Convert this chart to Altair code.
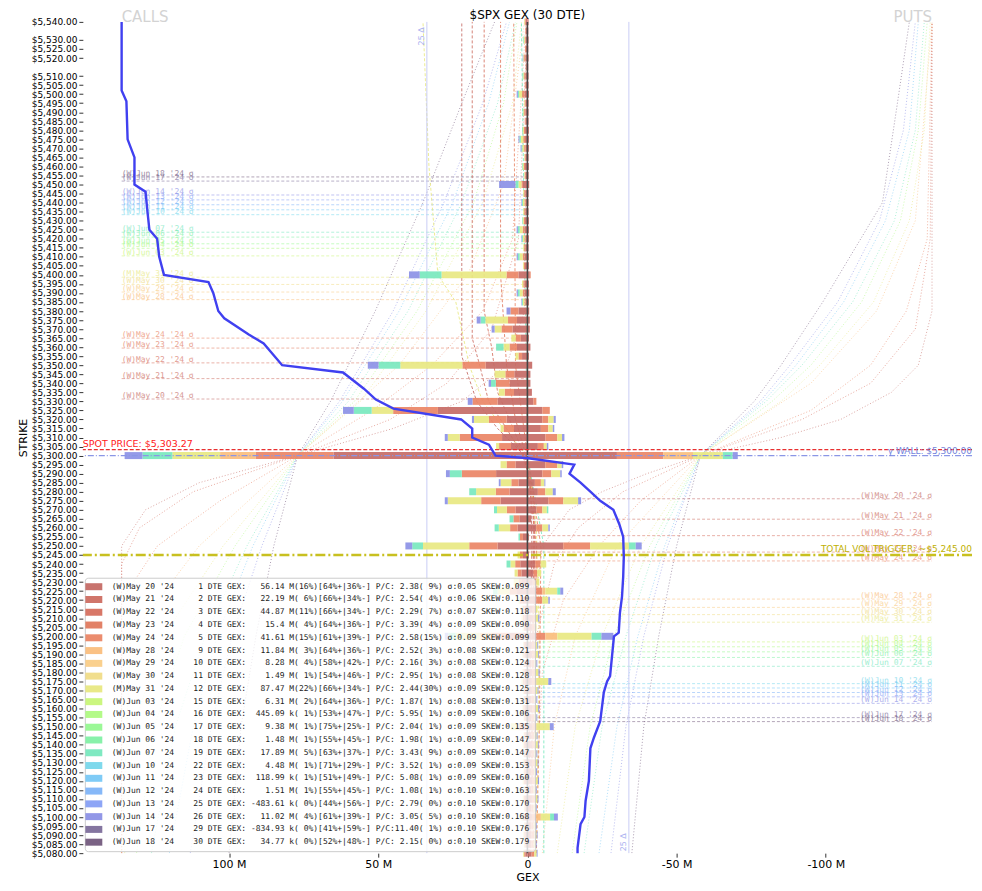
import altair as alt
import pandas as pd

# ---------------- expirations / legend columns ----------------
NAMES = ["(W)May 20 '24", "(W)May 21 '24", "(W)May 22 '24", "(W)May 23 '24", "(W)May 24 '24",
         "(W)May 28 '24", "(W)May 29 '24", "(W)May 30 '24", "(M)May 31 '24", "(W)Jun 03 '24",
         "(W)Jun 04 '24", "(W)Jun 05 '24", "(W)Jun 06 '24", "(W)Jun 07 '24", "(W)Jun 10 '24",
         "(W)Jun 11 '24", "(W)Jun 12 '24", "(W)Jun 13 '24", "(W)Jun 14 '24", "(W)Jun 17 '24",
         "(W)Jun 18 '24"]
COLORS = ["#c56b66", "#ce6e62", "#d6705f", "#e07a5f", "#ea8666", "#fabe7d", "#facd87", "#f0dc87",
          "#e8e882", "#c8f578", "#affa82", "#96f891", "#82f0a5", "#78e8be", "#78d7eb", "#78c8f5",
          "#80b4f8", "#87a0f5", "#8c91e6", "#7d6e9b", "#735a7d"]
DTE = [1, 2, 3, 4, 5, 9, 10, 11, 12, 15, 16, 17, 18, 19, 22, 23, 24, 25, 26, 29, 30]
GEX_VAL = ["56.14", "22.19", "44.87", "15.4", "41.61", "11.84", "8.28", "1.49", "87.47", "6.31",
           "445.09", "9.38", "1.48", "17.89", "4.48", "118.99", "1.51", "-483.61", "11.02",
           "-834.93", "34.77"]
GEX_UNIT = ["M", "M", "M", "M", "M", "M", "M", "M", "M", "M", "k", "M", "M", "M", "M", "k", "M",
            "k", "M", "k", "k"]
GEX_PCT = [16, 6, 11, 4, 15, 3, 4, 1, 22, 2, 1, 1, 1, 5, 1, 1, 1, 0, 4, 0, 0]
PLUS = [64, 66, 66, 64, 61, 64, 58, 54, 66, 64, 53, 75, 55, 63, 71, 51, 55, 44, 61, 41, 52]
MINUS = [36, 34, 34, 36, 39, 36, 42, 46, 34, 36, 47, 25, 45, 37, 29, 49, 45, 56, 39, 59, 48]
PC = [2.38, 2.54, 2.29, 3.39, 2.58, 2.52, 2.16, 2.95, 2.44, 1.87, 5.95, 2.04, 1.98, 3.43, 3.52,
      5.08, 1.08, 2.79, 3.05, 11.40, 2.15]
PC_PCT = [9, 4, 7, 4, 15, 3, 3, 1, 30, 1, 1, 1, 1, 9, 1, 1, 1, 0, 5, 1, 0]
SIG = [0.05, 0.06, 0.07, 0.09, 0.09, 0.08, 0.08, 0.08, 0.09, 0.08, 0.09, 0.09, 0.09, 0.09, 0.09,
       0.09, 0.10, 0.10, 0.10, 0.10, 0.10]
SKEW = [0.099, 0.110, 0.118, 0.090, 0.099, 0.121, 0.124, 0.128, 0.125, 0.131, 0.106, 0.135, 0.147,
        0.147, 0.153, 0.160, 0.163, 0.170, 0.168, 0.176, 0.179]

# sigma levels (strike) per expiration: above spot (calls side) and below spot (puts side)
SIGMA_UP = [5331.3, 5342.6, 5351.3, 5359.5, 5365.0, 5386.3, 5390.5, 5394.7, 5398.7, 5410.5, 5414.7,
            5417.2, 5420.9, 5423.6, 5433.3, 5436.0, 5438.8, 5441.5, 5444.2, 5451.9, 5454.2]
SIGMA_DN = [5276.1, 5264.8, 5255.7, 5246.6, 5241.7, 5220.6, 5216.0, 5212.0, 5207.8, 5196.9, 5194.2,
            5191.4, 5188.3, 5183.4, 5173.8, 5171.4, 5168.9, 5166.5, 5162.9, 5155.0, 5152.8]

SPOT = 5303.27
GAMMA_WALL = 5300.0
VOL_TRIGGER = 5245.0
DELTA25 = [33.7, -34.0]

YTICKS = [5540, 5530, 5525, 5520] + list(range(5510, 5075, -5))
XTICKS = [100, 50, 0, -50, -100]

# ---------------- GEX bars (M): strike -> (calls by group, puts by group) ----------------
BAR_GROUPS = ["(W)May 20 '24", "(W)May 24 '24", "(W)May 28 '24", "(M)May 31 '24",
              "(W)Jun 07 '24", "(W)Jun 14 '24"]
BARS = {
    5540: ([0.6, 0.3, 0, 0.2, 0, 0], [0.4, 0, 0, 0, 0, 0]),
    5535: ([0.5, 0.2, 0, 0, 0, 0], [0.3, 0, 0, 0, 0, 0]),
    5530: ([0.6, 0.3, 0, 0.3, 0.2, 0], [0.4, 0, 0, 0, 0, 0]),
    5525: ([0.5, 0.3, 0, 0, 0, 0], [0.3, 0, 0, 0, 0, 0]),
    5520: ([0.7, 0.4, 0, 0.3, 0, 0.2], [0.4, 0, 0, 0, 0, 0]),
    5515: ([0.4, 0.2, 0, 0, 0, 0], [0.3, 0, 0, 0, 0, 0]),
    5510: ([0.7, 0.4, 0, 0.3, 0.2, 0], [0.4, 0, 0, 0, 0, 0]),
    5505: ([0.6, 0.3, 0, 0, 0, 0], [0.4, 0, 0, 0, 0, 0]),
    5500: ([1.0, 0.8, 0, 1.0, 0.4, 0.4], [0.5, 0, 0, 0, 0, 0]),
    5495: ([0.6, 0.3, 0, 0.2, 0, 0], [0.4, 0, 0, 0, 0, 0]),
    5490: ([0.7, 0.4, 0, 0.3, 0.2, 0], [0.4, 0, 0, 0, 0, 0]),
    5485: ([0.6, 0.3, 0, 0, 0, 0], [0.4, 0, 0, 0, 0, 0]),
    5480: ([0.8, 0.4, 0, 0.4, 0.2, 0], [0.5, 0, 0, 0, 0, 0]),
    5475: ([0.8, 0.6, 0, 0.8, 0.5, 0.3], [0.5, 0, 0, 0, 0, 0]),
    5470: ([0.6, 0.5, 0, 0.6, 0.3, 0.3], [0.5, 0, 0, 0, 0, 0]),
    5465: ([0.6, 0.3, 0, 0.2, 0, 0], [0.4, 0, 0, 0, 0, 0]),
    5460: ([0.8, 0.4, 0, 0.4, 0.2, 0], [0.5, 0, 0, 0, 0, 0]),
    5455: ([0.6, 0.3, 0, 0.2, 0, 0], [0.4, 0, 0, 0, 0, 0]),
    5450: ([1.5, 0.5, 0, 1.0, 1.0, 5.5], [0.6, 0, 0, 0, 0, 0]),
    5445: ([0.7, 0.4, 0, 0.3, 0, 0], [0.4, 0, 0, 0, 0, 0]),
    5440: ([0.6, 0.4, 0, 0.5, 0.3, 0.2], [0.4, 0, 0, 0, 0, 0]),
    5435: ([0.7, 0.4, 0, 0.3, 0, 0], [0.4, 0, 0, 0, 0, 0]),
    5430: ([0.8, 0.4, 0, 0.4, 0.2, 0], [0.5, 0, 0, 0, 0, 0]),
    5425: ([1.0, 0.6, 0, 1.0, 0.6, 0.4], [0.5, 0, 0, 0, 0, 0]),
    5420: ([0.6, 0.4, 0, 0.5, 0.3, 0.2], [0.5, 0, 0, 0, 0, 0]),
    5415: ([0.7, 0.4, 0, 0.3, 0, 0], [0.4, 0, 0, 0, 0, 0]),
    5410: ([1.0, 0.6, 0, 1.0, 0.6, 0.4], [0.5, 0, 0, 0, 0, 0]),
    5405: ([0.8, 0.4, 0, 0.3, 0, 0], [0.5, 0, 0, 0, 0, 0]),
    5400: ([3.0, 4.0, 0, 21.8, 7.3, 3.6], [0.8, 0.3, 0, 0, 0, 0]),
    5395: ([0.9, 0.5, 0, 0.4, 0, 0], [0.5, 0, 0, 0, 0, 0]),
    5390: ([1.0, 0.6, 0, 1.0, 0.6, 0.4], [0.6, 0, 0, 0, 0, 0]),
    5385: ([0.6, 0.4, 0, 0.5, 0.3, 0.2], [0.5, 0, 0, 0, 0, 0]),
    5380: ([3.0, 2.7, 0, 0, 0, 1.3], [0.6, 0, 0, 0, 0, 0]),
    5375: ([3.5, 3.0, 0, 7.6, 1.6, 1.3], [0.8, 0, 0, 0, 0, 0]),
    5370: ([5.0, 3.7, 0, 2.3, 0, 1.0], [0.8, 0, 0, 0, 0, 0]),
    5365: ([2.2, 1.7, 0, 1.5, 0, 0], [0.5, 0, 0, 0, 0, 0]),
    5360: ([3.5, 2.5, 0, 2.0, 2.5, 0], [1.0, 0, 0, 0, 0, 0]),
    5355: ([1.8, 1.2, 0, 1.0, 0, 0], [0.5, 0, 0, 0, 0, 0]),
    5350: ([14.0, 7.8, 0, 20.8, 7.3, 3.6], [1.6, 0, 0, 0, 0, 0]),
    5345: ([4.4, 3.0, 0, 3.6, 0, 0], [1.0, 0, 0, 0, 0, 0]),
    5340: ([6.0, 4.6, 0, 0, 1.6, 0.8], [1.0, 0, 0, 0, 0, 0]),
    5335: ([4.5, 3.1, 0, 2.0, 0, 0], [1.5, 0, 0, 0, 0, 0]),
    5330: ([10.0, 8.4, 0, 0, 0, 1.6], [2.0, 1.0, 0, 0, 0, 0]),
    5325: ([30.0, 15.0, 0, 7.2, 6.0, 3.6], [5.0, 2.5, 0, 0, 0, 0]),
    5320: ([7.0, 5.9, 0, 5.0, 0, 0.7], [5.0, 2.0, 0, 1.8, 0, 0.7]),
    5315: ([4.5, 3.5, 0, 1.0, 0, 0], [4.5, 2.5, 0, 1.5, 0, 0.5]),
    5310: ([8.5, 14.2, 0, 4.0, 0, 1.0], [6.0, 4.0, 0, 1.6, 0, 0.8]),
    5305: ([5.5, 4.0, 0, 1.0, 0, 0], [3.5, 2.0, 0, 1.0, 0, 0.5]),
    5300: ([65.0, 26.0, 12.0, 16.0, 10.0, 6.0], [30.0, 15.5, 10.0, 10.0, 3.3, 1.7]),
    5295: ([4.0, 3.0, 0, 2.0, 0, 0], [6.0, 4.0, 0, 1.5, 0, 0.5]),
    5290: ([10.5, 11.5, 0, 0, 4.0, 1.3], [5.0, 3.0, 0, 3.0, 0, 0.5]),
    5285: ([3.0, 2.4, 0, 3.6, 0, 0.6], [2.5, 2.0, 0, 1.2, 0, 0.3]),
    5280: ([6.0, 4.6, 0, 6.6, 2.3, 0], [3.5, 2.5, 0, 2.5, 0, 1.0]),
    5275: ([9.0, 6.5, 0, 11.2, 0, 1.0], [7.0, 5.0, 0, 5.0, 0, 1.0]),
    5270: ([4.0, 2.9, 0, 3.3, 1.0, 0], [3.0, 2.0, 0, 1.5, 0.5, 0]),
    5265: ([2.7, 2.0, 0, 0, 1.3, 0], [1.3, 0, 0, 0, 0, 0]),
    5260: ([3.3, 2.5, 0, 3.8, 1.4, 0], [3.0, 2.0, 0, 2.0, 0, 0.5]),
    5255: ([1.5, 1.0, 0, 0, 0.5, 0], [0.5, 0, 0, 0, 0, 0]),
    5250: ([10.0, 9.5, 0, 15.5, 3.6, 2.3], [12.0, 9.0, 0, 13.0, 2.3, 2.0]),
    5245: ([1.5, 1.0, 0, 0.8, 0, 0], [0.5, 0, 0, 0, 0, 0]),
    5240: ([2.4, 1.7, 0, 1.6, 1.3, 0], [2.6, 1.8, 0, 1.9, 0, 0]),
    5235: ([2.0, 1.3, 0, 1.0, 0, 0], [2.0, 1.3, 0, 1.3, 0, 0]),
    5230: ([1.8, 1.2, 0, 1.6, 0, 0], [1.8, 1.2, 0, 1.0, 0, 0]),
    5225: ([3.5, 2.5, 0, 4.0, 1.5, 0], [3.0, 2.0, 1.0, 4.0, 1.0, 1.0]),
    5220: ([1.5, 1.0, 0, 0.5, 0, 0], [3.0, 2.0, 0, 2.0, 0, 0.5]),
    5215: ([1.0, 0.6, 0, 0.4, 0, 0], [1.8, 1.0, 0, 0.6, 0, 0]),
    5210: ([1.0, 0.6, 0, 0.4, 0, 0], [1.8, 1.0, 0, 0.8, 0, 0.4]),
    5205: ([0.8, 0.5, 0, 0.3, 0, 0], [1.5, 1.0, 0, 0.5, 0, 0]),
    5200: ([7.0, 5.0, 4.0, 8.0, 2.5, 1.2], [3.0, 3.0, 4.0, 11.5, 3.3, 4.0]),
    5195: ([0.8, 0.5, 0, 0.2, 0, 0], [1.5, 1.0, 0, 0.8, 0, 0.3]),
    5190: ([0.9, 0.5, 0, 0.3, 0, 0], [1.6, 1.0, 0, 1.0, 0, 0.3]),
    5185: ([0.7, 0.4, 0, 0.2, 0, 0], [1.4, 0.9, 0, 0.7, 0, 0.3]),
    5180: ([0.9, 0.5, 0, 0.3, 0, 0], [1.6, 1.1, 0, 1.0, 0, 0.4]),
    5175: ([1.0, 0.6, 0, 0.4, 0, 0], [1.5, 1.5, 0, 4.0, 0, 1.0]),
    5170: ([0.8, 0.5, 0, 0.2, 0, 0], [1.5, 1.0, 0, 0.9, 0, 0.3]),
    5165: ([0.7, 0.4, 0, 0.2, 0, 0], [1.4, 0.9, 0, 0.7, 0, 0.3]),
    5160: ([0.9, 0.5, 0, 0.3, 0, 0], [1.6, 1.0, 0, 1.0, 0, 0.4]),
    5155: ([0.7, 0.4, 0, 0.2, 0, 0], [1.4, 0.9, 0, 0.7, 0, 0.3]),
    5150: ([2.0, 1.0, 0, 2.6, 0, 0], [1.5, 1.5, 0, 4.5, 0, 1.3]),
    5145: ([0.7, 0.4, 0, 0.2, 0, 0], [1.4, 0.9, 0, 0.8, 0, 0.3]),
    5140: ([0.8, 0.5, 0, 0.3, 0, 0], [1.5, 1.0, 0, 1.0, 0, 0.3]),
    5135: ([0.7, 0.4, 0, 0.2, 0, 0], [1.4, 0.9, 0, 0.7, 0, 0.3]),
    5130: ([0.8, 0.5, 0, 0.3, 0, 0], [1.5, 1.0, 0, 0.9, 0, 0.3]),
    5125: ([0.7, 0.4, 0, 0.2, 0, 0], [1.3, 0.9, 0, 0.7, 0, 0.3]),
    5120: ([0.8, 0.5, 0, 0.3, 0, 0], [1.5, 1.0, 0, 1.0, 0, 0.4]),
    5115: ([0.6, 0.4, 0, 0.2, 0, 0], [1.3, 0.8, 0, 0.7, 0, 0.3]),
    5110: ([0.8, 0.5, 0, 0.3, 0, 0], [1.5, 1.0, 0, 0.9, 0, 0.3]),
    5105: ([0.6, 0.4, 0, 0.2, 0, 0], [1.3, 0.8, 0, 0.7, 0, 0.3]),
    5100: ([1.0, 0.6, 0, 0.4, 0, 0], [1.5, 1.5, 1.5, 3.1, 1.3, 1.3]),
    5095: ([0.6, 0.4, 0, 0.2, 0, 0], [1.3, 0.8, 0, 0.7, 0, 0.3]),
    5090: ([0.7, 0.4, 0, 0.3, 0, 0], [1.4, 0.9, 0, 0.8, 0, 0.3]),
    5085: ([0.6, 0.4, 0, 0.2, 0, 0], [1.3, 0.8, 0, 0.7, 0, 0.3]),
    5080: ([0.7, 0.4, 0, 0.3, 0, 0], [1.4, 0.9, 0, 0.8, 0, 0.3]),
}

# ---------------- cumulative total GEX profile (blue line) ----------------
PROFILE_STRIKE = [5540, 5502, 5496, 5475, 5465, 5450, 5446, 5436, 5425, 5420, 5410, 5400, 5396, 5390,
                  5380, 5376, 5367, 5362, 5350, 5346, 5337, 5331, 5326, 5320, 5315, 5310, 5306, 5300,
                  5298.5, 5295, 5290, 5285, 5280, 5275, 5270, 5262, 5255, 5244, 5233, 5222, 5213,
                  5202, 5200, 5178, 5175, 5169, 5153, 5144, 5138, 5120, 5109, 5100, 5096, 5083, 5080]
PROFILE_GEX = [136.0, 136.0, 134.4, 134.0, 131.7, 131.7, 128.0, 127.4, 126.7, 124.1, 123.4, 121.8,
               106.9, 105.3, 103.6, 101.6, 93.4, 88.4, 82.2, 61.8, 54.8, 50.8, 44.9, 22.2, 18.5, 18.5,
               12.9, 10.7, -0.3, -15.7, -14.1, -17.8, -21.1, -24.4, -28.8, -30.8, -32.1, -32.3, -32.1,
               -31.7, -31.0, -30.6, -29.0, -27.7, -26.7, -25.6, -24.4, -22.3, -21.1, -20.6, -19.5,
               -19.1, -17.8, -16.8, -16.8]

# ---------------- dotted cumulative curves: name -> (strikes, GEX in M) ----------------
CALL_CURVES = {
    "(W)May 20 '24": ([5080, 5250, 5270, 5285, 5300, 5315, 5330, 5350, 5380, 5540],
                      [136, 136, 128, 110, 77, 45, 22, 7, 1, 0]),
    "(W)May 22 '24": ([5080, 5240, 5260, 5280, 5300, 5320, 5340, 5370, 5420, 5540],
                      [136, 136, 130, 112, 77, 46, 27, 12, 3, 0]),
    "(W)May 24 '24": ([5080, 5220, 5250, 5275, 5300, 5325, 5350, 5380, 5420, 5540],
                      [136, 136, 124, 103, 77, 52, 32, 15, 5, 0.5]),
    "(W)May 28 '24": ([5080, 5200, 5250, 5300, 5350, 5400, 5450, 5540],
                      [136, 133, 110, 77, 43, 20, 8, 1]),
    "(M)May 31 '24": ([5080, 5150, 5200, 5250, 5300, 5330, 5380, 5440, 5495, 5540],
                      [135, 132, 122, 102, 77, 56, 34, 15, 5, 2]),
    "(W)Jun 04 '24": ([5080, 5150, 5200, 5250, 5300, 5330, 5380, 5440, 5495, 5540],
                      [131, 125, 115, 98, 77, 58, 37, 18, 8, 3.5]),
    "(W)Jun 07 '24": ([5080, 5150, 5200, 5250, 5300, 5330, 5380, 5440, 5495, 5540],
                      [126, 118, 108, 94, 77, 60, 40, 22, 10, 4]),
    "(W)Jun 11 '24": ([5080, 5150, 5200, 5250, 5300, 5330, 5380, 5440, 5495, 5540],
                      [120, 112, 104, 92, 77, 62, 43, 25, 13, 6]),
    "(W)Jun 14 '24": ([5080, 5150, 5200, 5250, 5300, 5330, 5380, 5440, 5495, 5540],
                      [113, 106, 99, 89, 77, 63, 45, 28, 15, 7]),
    "(W)Jun 18 '24": ([5080, 5150, 5200, 5250, 5300, 5330, 5380, 5440, 5495, 5540],
                      [100, 96, 91, 85, 77, 66, 51, 35, 22, 11]),
}
PUT_CURVES = {
    "(W)May 20 '24": ([5080, 5200, 5250, 5270, 5280, 5290, 5300, 5310, 5320, 5335, 5350, 5380, 5540],
                      [0, 1, 5, 14, 25, 40, 58, 85, 105, 122, 131, 135.6, 135.6]),
    "(W)May 22 '24": ([5080, 5200, 5240, 5260, 5280, 5300, 5320, 5340, 5370, 5420, 5540],
                      [0.5, 3, 9, 17, 32, 58, 92, 115, 130, 135, 135.6]),
    "(W)May 24 '24": ([5080, 5180, 5220, 5250, 5275, 5300, 5325, 5350, 5380, 5420, 5540],
                      [2, 5, 12, 24, 38, 58, 95, 115, 127, 134, 135.6]),
    "(W)May 28 '24": ([5080, 5150, 5200, 5250, 5300, 5340, 5380, 5430, 5540],
                      [5, 9, 16, 30, 58, 95, 117, 130, 135.6]),
    "(M)May 31 '24": ([5080, 5150, 5200, 5250, 5300, 5330, 5350, 5385, 5430, 5480, 5540],
                      [10, 16, 25, 38, 58, 85, 98, 116, 128, 133, 135]),
    "(W)Jun 04 '24": ([5080, 5150, 5200, 5250, 5300, 5330, 5350, 5385, 5430, 5480, 5540],
                      [15, 21, 29, 41, 58, 82, 95, 112, 125, 131, 134]),
    "(W)Jun 07 '24": ([5080, 5150, 5200, 5250, 5300, 5330, 5350, 5385, 5430, 5480, 5540],
                      [19, 25, 33, 43, 58, 80, 92, 109, 123, 130, 133]),
    "(W)Jun 11 '24": ([5080, 5150, 5200, 5250, 5300, 5330, 5350, 5385, 5430, 5480, 5540],
                      [24, 30, 37, 46, 58, 79, 90, 106, 120, 128, 131]),
    "(W)Jun 14 '24": ([5080, 5150, 5200, 5250, 5300, 5330, 5350, 5385, 5430, 5480, 5540],
                      [28, 33, 39, 47, 58, 78, 88, 104, 118, 126, 130]),
    "(W)Jun 18 '24": ([5080, 5150, 5200, 5250, 5300, 5330, 5350, 5385, 5440, 5495, 5540],
                      [35, 39, 44, 50, 58, 76, 85, 99, 119, 124, 128]),
}

# ---------------- dashed per-expiry profile lines near zero ----------------
DASH_LINES = {
    "(W)May 20 '24": ([5540, 5355, 5345, 5330, 5315, 5305, 5300, 5290, 5250, 5200, 5080],
                      [22, 22, 20, 17, 10, 4, 1, -1, -1.5, -1, -0.5]),
    "(W)May 21 '24": ([5540, 5365, 5350, 5330, 5315, 5300, 5280, 5240, 5080],
                      [18.5, 18.5, 16, 13, 7, 1.5, -2, -2, -1]),
    "(W)May 22 '24": ([5540, 5380, 5360, 5335, 5320, 5300, 5270, 5200, 5080],
                      [14.5, 14.5, 12, 10, 6, 1, -2.5, -2, -1.5]),
    "(M)May 31 '24": ([5540, 5460, 5400, 5385, 5350, 5330, 5315, 5300, 5260, 5200, 5080],
                      [35, 33, 30, 24, 19.5, 15, 8, 0, -3, -4, -3]),
    "(W)May 23 '24": ([5540, 5400, 5350, 5320, 5300, 5250, 5080],
                      [9, 9, 7, 4, 0.5, -3, -2]),
    "(W)May 24 '24": ([5540, 5350, 5300, 5250, 5150, 5080],
                      [4.6, 4, 0, -4.5, -4, -3]),
    "(W)Jun 07 '24": ([5540, 5300, 5250, 5080], [2, 0, -5.5, -5.5]),
}

# ---------------- build tables ----------------
LABELS = []
for i in range(len(NAMES)):
    s = (f"{NAMES[i]}{DTE[i]:>6} DTE GEX:{GEX_VAL[i]:>8} {GEX_UNIT[i]}({GEX_PCT[i]:>2}%)"
         f"[{PLUS[i]}%+|{MINUS[i]}%-] P/C:{PC[i]:>5.2f}({PC_PCT[i]:>2}%) σ:{SIG[i]:.2f} SKEW:{SKEW[i]:.3f}")
    LABELS.append(s.replace(" ", "\u00a0"))
LABEL_OF = dict(zip(NAMES, LABELS))
COLOR_OF = dict(zip(NAMES, COLORS))

bar_rows = []
for k, (calls, puts) in BARS.items():
    for gi, g in enumerate(BAR_GROUPS):
        if calls[gi] > 0:
            bar_rows.append({"strike": k, "gex": calls[gi], "label": LABEL_OF[g], "gi": gi})
        if puts[gi] > 0:
            bar_rows.append({"strike": k, "gex": -puts[gi], "label": LABEL_OF[g], "gi": gi})
bars_df = pd.DataFrame(bar_rows)

profile_df = pd.DataFrame({"strike": PROFILE_STRIKE, "gex": PROFILE_GEX})

curve_rows = []
for name, (ks, vs) in CALL_CURVES.items():
    for k, v in zip(ks, vs):
        curve_rows.append({"cid": "c" + name, "strike": k, "gex": v, "hex": COLOR_OF[name]})
for name, (ks, vs) in PUT_CURVES.items():
    for k, v in zip(ks, vs):
        curve_rows.append({"cid": "p" + name, "strike": k, "gex": -v, "hex": COLOR_OF[name]})
curves_df = pd.DataFrame(curve_rows)

dash_rows = []
for name, (ks, vs) in DASH_LINES.items():
    for k, v in zip(ks, vs):
        dash_rows.append({"cid": name, "strike": k, "gex": v, "hex": COLOR_OF[name]})
dash_df = pd.DataFrame(dash_rows)

LEFT_EDGE = 136.0
RIGHT_EDGE = -135.6
sig_rows = []
for i, name in enumerate(NAMES):
    sig_rows.append({"strike": SIGMA_UP[i], "gex": LEFT_EDGE, "gex2": 0.0, "hex": COLORS[i],
                     "txt": f"{name} σ", "side": "L"})
    sig_rows.append({"strike": SIGMA_DN[i], "gex": 0.0, "gex2": RIGHT_EDGE, "hex": COLORS[i],
                     "txt": f"{name} σ", "side": "R"})
sig_df = pd.DataFrame(sig_rows)
sigL = sig_df[sig_df.side == "L"]
sigR = sig_df[sig_df.side == "R"].assign(gex=RIGHT_EDGE)

# ---------------- encodings ----------------
XS = alt.Scale(domain=[-149, 149], reverse=True, nice=False, zero=False)
YS = alt.Scale(domain=[5080, 5540], nice=False, zero=False, padding=0)
XA = alt.Axis(values=XTICKS, labelExpr="datum.value == 0 ? '0' : datum.value + ' M'", grid=False,
              domain=False, tickSize=4, labelFontSize=11, title="GEX", titleFontWeight="normal",
              titleFontSize=11, titlePadding=2, labelPadding=1, tickColor="#333", labelColor="black")
YA = alt.Axis(values=YTICKS, format="$,.2f", grid=False, domain=False, tickSize=4, labelFontSize=9,
              labelOverlap=False, labelBound=False, title="STRIKE", titleFontWeight="normal",
              titleFontSize=11, titlePadding=3, labelPadding=2, tickColor="#333", labelColor="black")


def X(field="gex", **kw):
    return alt.X(f"{field}:Q", scale=XS, axis=XA, **kw)


def Y(field="strike"):
    return alt.Y(f"{field}:Q", scale=YS, axis=YA)


legend = alt.Legend(title=None, orient="bottom-left", offset=2, padding=4,
                    fillColor="rgba(255,255,255,0.8)", strokeColor="#cccccc", cornerRadius=3,
                    symbolType="M-1.7,-0.7H1.7V0.7H-1.7Z", symbolSize=100, symbolStrokeWidth=0,
                    symbolOpacity=0.95, labelFont="DejaVu Sans Mono", labelFontSize=8,
                    labelLimit=800, labelOffset=13, rowPadding=3.8, labelColor="#222")

curves = alt.Chart(curves_df).mark_line(strokeDash=[1, 2], strokeWidth=1, opacity=0.6, clip=True).encode(
    x=X(), y=Y(), stroke=alt.Stroke("hex:N", scale=None), detail="cid:N", order="strike:Q")

sig_lines = alt.Chart(sig_df).mark_rule(strokeDash=[3, 2], strokeWidth=1, opacity=0.55).encode(
    x=X(), x2="gex2:Q", y=Y(), stroke=alt.Stroke("hex:N", scale=None))

sig_txt_l = alt.Chart(sigL).mark_text(align="left", baseline="bottom", font="DejaVu Sans Mono",
                                      fontSize=8, opacity=0.7, dy=1).encode(
    x=X(), y=Y(), text="txt:N", fill=alt.Fill("hex:N", scale=None))
sig_txt_r = alt.Chart(sigR).mark_text(align="right", baseline="bottom", font="DejaVu Sans Mono",
                                      fontSize=8, opacity=0.7, dy=1).encode(
    x=X(), y=Y(), text="txt:N", fill=alt.Fill("hex:N", scale=None))

dashes = alt.Chart(dash_df).mark_line(strokeDash=[3, 2], strokeWidth=1, opacity=0.85).encode(
    x=X(), y=Y(), stroke=alt.Stroke("hex:N", scale=None), detail="cid:N", order="strike:Q")

bars = alt.Chart(bars_df).mark_bar(orient="horizontal", size=7, opacity=0.92).encode(
    x=X(stack="zero"), y=Y(),
    color=alt.Color("label:N", scale=alt.Scale(domain=LABELS, range=COLORS), legend=legend),
    order=alt.Order("gi:Q", sort="ascending"))

zero_df = pd.DataFrame({"gex": [0.0]})
zero_rule = alt.Chart(zero_df).mark_rule(color="#444", strokeWidth=1.6).encode(x=X())

d25_df = pd.DataFrame({"gex": DELTA25, "strike": [5537.0, 5081.0], "txt": ["25 Δ", "25 Δ"]})
d25_rule = alt.Chart(d25_df).mark_rule(color="#c9cdf5", strokeWidth=1).encode(x=X())
d25_top = alt.Chart(d25_df.iloc[[0]]).mark_text(angle=270, align="right", baseline="bottom",
                                                fontSize=8, color="#a8b0f0", dy=-1).encode(
    x=X(), y=Y(), text="txt:N")
d25_bot = alt.Chart(d25_df.iloc[[1]]).mark_text(angle=270, align="left", baseline="bottom",
                                                fontSize=8, color="#a8b0f0", dy=-1).encode(
    x=X(), y=Y(), text="txt:N")

spot_df = pd.DataFrame({"strike": [SPOT], "gex": [149.0], "txt": [f"SPOT PRICE: ${SPOT:,.2f}"]})
gw_df = pd.DataFrame({"strike": [GAMMA_WALL], "gex": [-149.0], "txt": [f"γ WALL: ${GAMMA_WALL:,.2f}"]})
vt_df = pd.DataFrame({"strike": [VOL_TRIGGER], "gex": [-149.0],
                      "txt": [f"TOTAL VOL TRIGGER: ~${VOL_TRIGGER:,.2f}"]})

spot_rule = alt.Chart(spot_df).mark_rule(color="#e83030", strokeDash=[4, 2], strokeWidth=1.3).encode(y=Y())
spot_txt = alt.Chart(spot_df).mark_text(align="left", baseline="bottom", fontSize=9.5, color="#ff2020",
                                        dy=-1).encode(x=X(), y=Y(), text="txt:N")
gw_rule = alt.Chart(gw_df).mark_rule(color="#8a96e6", strokeDash=[6, 2, 1, 2], strokeWidth=1.3).encode(y=Y())
gw_txt = alt.Chart(gw_df).mark_text(align="right", baseline="bottom", fontSize=9, color="#7585dd",
                                    dy=0).encode(x=X(), y=Y(), text="txt:N")
vt_rule = alt.Chart(vt_df).mark_rule(color="#c8c020", strokeDash=[10, 3, 2, 3], strokeWidth=2.5).encode(y=Y())
vt_txt = alt.Chart(vt_df).mark_text(align="right", baseline="bottom", fontSize=9, color="#c0b000",
                                    dy=-1).encode(x=X(), y=Y(), text="txt:N")

profile = alt.Chart(profile_df).mark_line(color="#4040f0", strokeWidth=2.4).encode(
    x=X(), y=Y(), order="strike:Q")

top_df = pd.DataFrame({"gex": [LEFT_EDGE, RIGHT_EDGE, 0.0], "strike": [5540, 5540, 5540],
                       "txt": ["CALLS", "PUTS", "$SPX GEX (30 DTE)"]})
calls_txt = alt.Chart(top_df.iloc[[0]]).mark_text(align="left", baseline="bottom", fontSize=15,
                                                  color="#d3d3d3", dy=3).encode(
    x=X(), y=Y(), text="txt:N")
puts_txt = alt.Chart(top_df.iloc[[1]]).mark_text(align="right", baseline="bottom", fontSize=15,
                                                 color="#d3d3d3", dy=3).encode(
    x=X(), y=Y(), text="txt:N")
title_txt = alt.Chart(top_df.iloc[[2]]).mark_text(align="center", baseline="bottom", fontSize=12,
                                                  color="black", dy=0).encode(
    x=X(), y=Y(), text="txt:N")

chart = alt.layer(
    curves, sig_lines, sig_txt_l, sig_txt_r, dashes, d25_rule, bars, zero_rule,
    spot_rule, gw_rule, vt_rule, profile, spot_txt, gw_txt, vt_txt, d25_top, d25_bot,
    calls_txt, puts_txt, title_txt,
).properties(
    width=891, height=833,
    padding={"left": 9, "top": 0, "right": 0, "bottom": 0},
).configure(font="DejaVu Sans").configure_view(stroke=None)

chart.save("out.html", embed_options={"renderer": "svg", "actions": False})
